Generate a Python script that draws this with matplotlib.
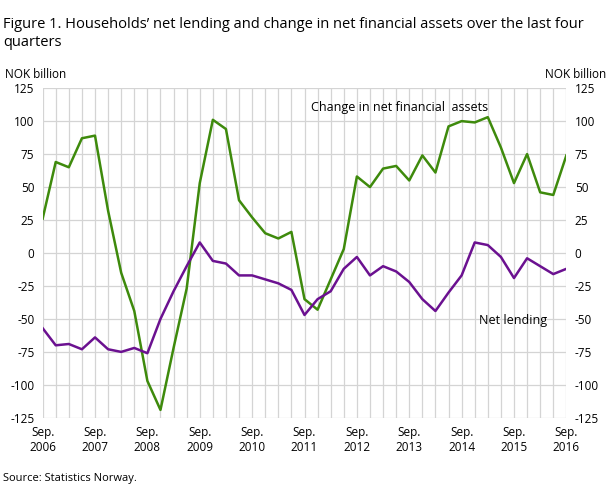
import matplotlib.pyplot as plt
import numpy as np

plt.rcParams["font.family"] = ["Open Sans", "DejaVu Sans"]

years = list(range(2006, 2017))
change_nfa = [26, 69, 65, 87, 89, 32, -15, -44, -97, -119, -72, -27, 53, 101, 94, 40,
              27, 15, 11, 16, -35, -43, -20, 3, 58, 50, 64, 66, 55, 74, 61, 96, 100,
              99, 103, 80, 53, 75, 46, 44, 74]
net_lending = [-57, -70, -69, -73, -64, -73, -75, -72, -76, -50, -29, -10, 8, -6, -8,
               -17, -17, -20, -23, -28, -47, -35, -29, -12, -3, -17, -10, -14, -22, -35,
               -44, -30, -17, 8, 6, -3, -19, -4, -10, -16, -12]

x = np.arange(len(change_nfa))

fig = plt.figure(figsize=(6.09, 4.87), dpi=100)
ax = fig.add_axes([0.07, 0.142, 0.86, 0.677])

ax.plot(x, change_nfa, color="#3e8a0c", lw=1.8)
ax.plot(x, net_lending, color="#6b1190", lw=1.8)

ax.set_xlim(0, len(x) - 1)
ax.set_ylim(-125, 125)
yt = np.arange(-125, 126, 25)
ax.set_yticks(yt)
ax.set_yticklabels([str(v) for v in yt], fontsize=8.5)
ax.set_xticks(x, minor=True)
ax.set_xticks(x[::4])
ax.set_xticklabels(["Sep.\n%d" % y for y in years], fontsize=8.5)
ax.grid(True, which="both", color="#d4d4d4", lw=0.9)
ax.set_axisbelow(True)
for s in ax.spines.values():
    s.set_visible(False)
ax.tick_params(which="both", length=0, labelright=True, pad=6)

ax.text(20.5, 108, "Change in net financial  assets", fontsize=9)
ax.text(33.3, -54, "Net lending", fontsize=9)

fig.text(0.005, 0.965, "Figure 1. Households\u2019 net lending and change in net financial assets over the last four\nquarters",
         fontsize=10.5, va="top", linespacing=1.3)
fig.text(0.008, 0.84, "NOK billion", fontsize=8.5)
fig.text(0.995, 0.84, "NOK billion", fontsize=8.5, ha="right")
fig.text(0.005, 0.012, "Source: Statistics Norway.", fontsize=8)

fig.savefig("out.png", dpi=100)
